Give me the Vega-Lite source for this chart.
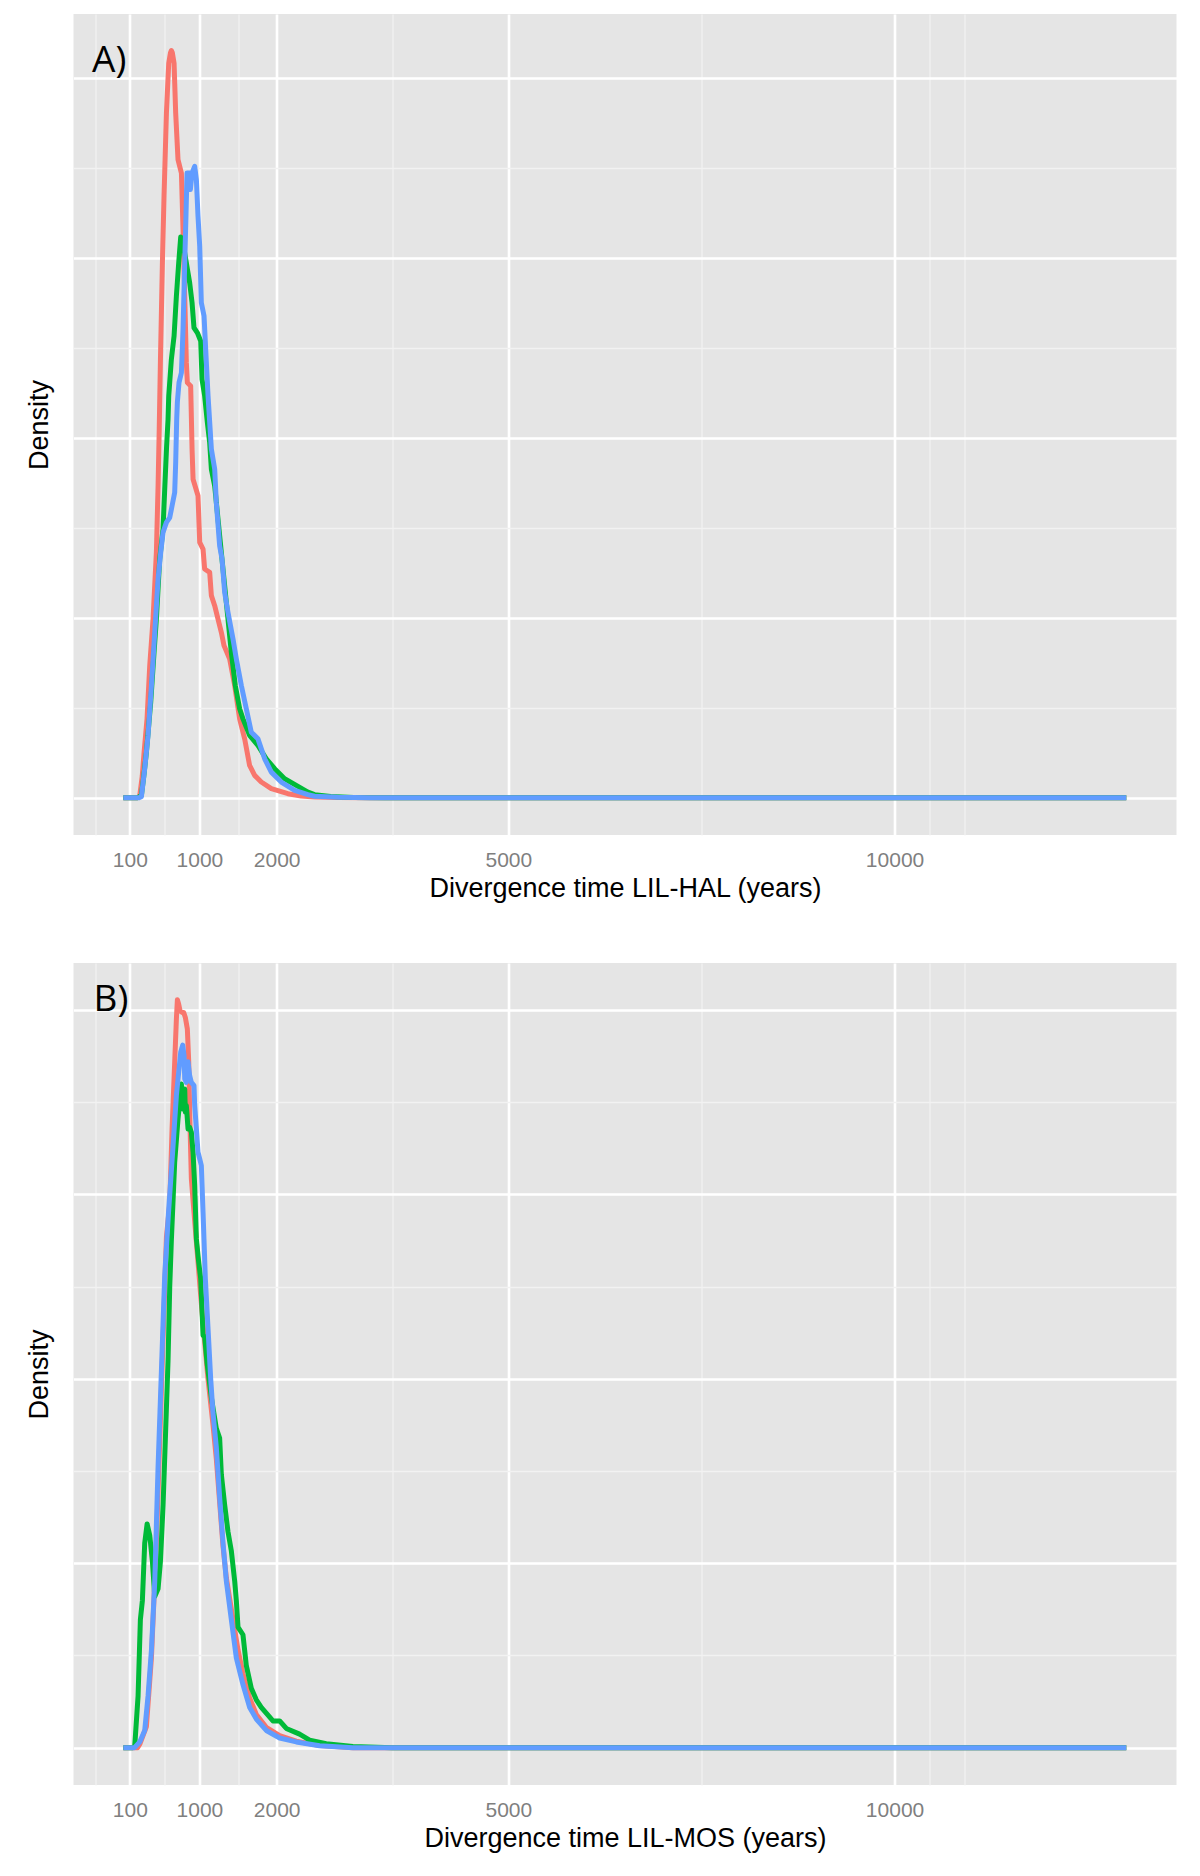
{
  "$schema": "https://vega.github.io/schema/vega-lite/v6.json",
  "background": "#FFFFFF",
  "padding": {"left": 25.5, "top": 14, "right": 23, "bottom": 5},
  "spacing": 62,
  "config": {
    "view": {"fill": "#E5E5E5", "stroke": null},
    "font": "Liberation Sans",
    "axis": {
      "domain": false, "ticks": false, "tickSize": 0,
      "labelFont": "Liberation Sans", "labelFontSize": 21, "labelColor": "#7F7F7F",
      "titleFont": "Liberation Sans", "titleFontSize": 27, "titleFontWeight": "normal", "titleColor": "#000000",
      "labelOverlap": false, "labelFlush": false
    }
  },
  "datasets": {
    "curves": [
      {"p":"A","s":"Run 1","x":15,"y":0},{"p":"A","s":"Run 1","x":200,"y":0},{"p":"A","s":"Run 1","x":228,"y":0.013},{"p":"A","s":"Run 1","x":260,"y":0.12},{"p":"A","s":"Run 1","x":284,"y":0.253},{"p":"A","s":"Run 1","x":322,"y":0.438},{"p":"A","s":"Run 1","x":357,"y":0.734},{"p":"A","s":"Run 1","x":400,"y":0.993},{"p":"A","s":"Run 1","x":443,"y":1.363},{"p":"A","s":"Run 1","x":465,"y":1.733},{"p":"A","s":"Run 1","x":480,"y":2.05},{"p":"A","s":"Run 1","x":495,"y":2.418},{"p":"A","s":"Run 1","x":521,"y":2.973},{"p":"A","s":"Run 1","x":542,"y":3.343},{"p":"A","s":"Run 1","x":573,"y":3.805},{"p":"A","s":"Run 1","x":603,"y":4.083},{"p":"A","s":"Run 1","x":625,"y":4.14},{"p":"A","s":"Run 1","x":637,"y":4.153},{"p":"A","s":"Run 1","x":650,"y":4.14},{"p":"A","s":"Run 1","x":672,"y":4.083},{"p":"A","s":"Run 1","x":693,"y":3.805},{"p":"A","s":"Run 1","x":723,"y":3.546},{"p":"A","s":"Run 1","x":767,"y":3.472},{"p":"A","s":"Run 1","x":788,"y":3.158},{"p":"A","s":"Run 1","x":810,"y":2.788},{"p":"A","s":"Run 1","x":831,"y":2.418},{"p":"A","s":"Run 1","x":844,"y":2.307},{"p":"A","s":"Run 1","x":887,"y":2.288},{"p":"A","s":"Run 1","x":905,"y":1.937},{"p":"A","s":"Run 1","x":918,"y":1.77},{"p":"A","s":"Run 1","x":982,"y":1.678},{"p":"A","s":"Run 1","x":1004,"y":1.419},{"p":"A","s":"Run 1","x":1047,"y":1.382},{"p":"A","s":"Run 1","x":1068,"y":1.271},{"p":"A","s":"Run 1","x":1133,"y":1.252},{"p":"A","s":"Run 1","x":1155,"y":1.123},{"p":"A","s":"Run 1","x":1198,"y":1.067},{"p":"A","s":"Run 1","x":1241,"y":0.993},{"p":"A","s":"Run 1","x":1284,"y":0.919},{"p":"A","s":"Run 1","x":1319,"y":0.845},{"p":"A","s":"Run 1","x":1392,"y":0.771},{"p":"A","s":"Run 1","x":1457,"y":0.623},{"p":"A","s":"Run 1","x":1521,"y":0.438},{"p":"A","s":"Run 1","x":1586,"y":0.327},{"p":"A","s":"Run 1","x":1650,"y":0.179},{"p":"A","s":"Run 1","x":1715,"y":0.124},{"p":"A","s":"Run 1","x":1801,"y":0.087},{"p":"A","s":"Run 1","x":1931,"y":0.05},{"p":"A","s":"Run 1","x":2146,"y":0.022},{"p":"A","s":"Run 1","x":2319,"y":0.009},{"p":"A","s":"Run 1","x":2491,"y":0.004},{"p":"A","s":"Run 1","x":2800,"y":0.001},{"p":"A","s":"Run 1","x":3200,"y":0},{"p":"A","s":"Run 1","x":13000,"y":0},
      {"p":"A","s":"Run 2","x":15,"y":0},{"p":"A","s":"Run 2","x":200,"y":0},{"p":"A","s":"Run 2","x":249,"y":0.013},{"p":"A","s":"Run 2","x":280,"y":0.12},{"p":"A","s":"Run 2","x":314,"y":0.253},{"p":"A","s":"Run 2","x":370,"y":0.531},{"p":"A","s":"Run 2","x":413,"y":0.808},{"p":"A","s":"Run 2","x":443,"y":0.993},{"p":"A","s":"Run 2","x":486,"y":1.326},{"p":"A","s":"Run 2","x":529,"y":1.493},{"p":"A","s":"Run 2","x":551,"y":1.715},{"p":"A","s":"Run 2","x":575,"y":1.95},{"p":"A","s":"Run 2","x":594,"y":2.103},{"p":"A","s":"Run 2","x":603,"y":2.233},{"p":"A","s":"Run 2","x":637,"y":2.436},{"p":"A","s":"Run 2","x":672,"y":2.566},{"p":"A","s":"Run 2","x":702,"y":2.788},{"p":"A","s":"Run 2","x":732,"y":2.973},{"p":"A","s":"Run 2","x":758,"y":3.117},{"p":"A","s":"Run 2","x":788,"y":3.084},{"p":"A","s":"Run 2","x":831,"y":2.973},{"p":"A","s":"Run 2","x":874,"y":2.862},{"p":"A","s":"Run 2","x":905,"y":2.751},{"p":"A","s":"Run 2","x":930,"y":2.612},{"p":"A","s":"Run 2","x":974,"y":2.584},{"p":"A","s":"Run 2","x":1017,"y":2.538},{"p":"A","s":"Run 2","x":1034,"y":2.325},{"p":"A","s":"Run 2","x":1068,"y":2.233},{"p":"A","s":"Run 2","x":1103,"y":2.085},{"p":"A","s":"Run 2","x":1133,"y":1.974},{"p":"A","s":"Run 2","x":1155,"y":1.826},{"p":"A","s":"Run 2","x":1198,"y":1.733},{"p":"A","s":"Run 2","x":1284,"y":1.363},{"p":"A","s":"Run 2","x":1370,"y":0.993},{"p":"A","s":"Run 2","x":1413,"y":0.808},{"p":"A","s":"Run 2","x":1465,"y":0.623},{"p":"A","s":"Run 2","x":1521,"y":0.494},{"p":"A","s":"Run 2","x":1564,"y":0.438},{"p":"A","s":"Run 2","x":1650,"y":0.346},{"p":"A","s":"Run 2","x":1758,"y":0.29},{"p":"A","s":"Run 2","x":1866,"y":0.216},{"p":"A","s":"Run 2","x":1974,"y":0.161},{"p":"A","s":"Run 2","x":2103,"y":0.105},{"p":"A","s":"Run 2","x":2254,"y":0.068},{"p":"A","s":"Run 2","x":2405,"y":0.031},{"p":"A","s":"Run 2","x":2491,"y":0.017},{"p":"A","s":"Run 2","x":2700,"y":0.006},{"p":"A","s":"Run 2","x":3000,"y":0.001},{"p":"A","s":"Run 2","x":3400,"y":0},{"p":"A","s":"Run 2","x":13000,"y":0},
      {"p":"A","s":"Run 3","x":15,"y":0},{"p":"A","s":"Run 3","x":220,"y":0},{"p":"A","s":"Run 3","x":249,"y":0.005},{"p":"A","s":"Run 3","x":292,"y":0.161},{"p":"A","s":"Run 3","x":335,"y":0.346},{"p":"A","s":"Run 3","x":379,"y":0.623},{"p":"A","s":"Run 3","x":422,"y":0.919},{"p":"A","s":"Run 3","x":465,"y":1.215},{"p":"A","s":"Run 3","x":499,"y":1.363},{"p":"A","s":"Run 3","x":529,"y":1.474},{"p":"A","s":"Run 3","x":573,"y":1.53},{"p":"A","s":"Run 3","x":616,"y":1.557},{"p":"A","s":"Run 3","x":646,"y":1.622},{"p":"A","s":"Run 3","x":680,"y":1.696},{"p":"A","s":"Run 3","x":693,"y":1.863},{"p":"A","s":"Run 3","x":706,"y":2.103},{"p":"A","s":"Run 3","x":715,"y":2.2},{"p":"A","s":"Run 3","x":736,"y":2.307},{"p":"A","s":"Run 3","x":767,"y":2.362},{"p":"A","s":"Run 3","x":788,"y":2.603},{"p":"A","s":"Run 3","x":810,"y":2.973},{"p":"A","s":"Run 3","x":827,"y":3.25},{"p":"A","s":"Run 3","x":840,"y":3.472},{"p":"A","s":"Run 3","x":874,"y":3.472},{"p":"A","s":"Run 3","x":883,"y":3.38},{"p":"A","s":"Run 3","x":905,"y":3.472},{"p":"A","s":"Run 3","x":939,"y":3.509},{"p":"A","s":"Run 3","x":961,"y":3.435},{"p":"A","s":"Run 3","x":982,"y":3.232},{"p":"A","s":"Run 3","x":1004,"y":3.065},{"p":"A","s":"Run 3","x":1025,"y":2.751},{"p":"A","s":"Run 3","x":1060,"y":2.677},{"p":"A","s":"Run 3","x":1090,"y":2.418},{"p":"A","s":"Run 3","x":1112,"y":2.233},{"p":"A","s":"Run 3","x":1155,"y":1.937},{"p":"A","s":"Run 3","x":1198,"y":1.826},{"p":"A","s":"Run 3","x":1219,"y":1.641},{"p":"A","s":"Run 3","x":1262,"y":1.4},{"p":"A","s":"Run 3","x":1293,"y":1.326},{"p":"A","s":"Run 3","x":1327,"y":1.141},{"p":"A","s":"Run 3","x":1370,"y":1.03},{"p":"A","s":"Run 3","x":1435,"y":0.882},{"p":"A","s":"Run 3","x":1478,"y":0.771},{"p":"A","s":"Run 3","x":1543,"y":0.623},{"p":"A","s":"Run 3","x":1607,"y":0.494},{"p":"A","s":"Run 3","x":1672,"y":0.364},{"p":"A","s":"Run 3","x":1758,"y":0.327},{"p":"A","s":"Run 3","x":1845,"y":0.216},{"p":"A","s":"Run 3","x":1931,"y":0.142},{"p":"A","s":"Run 3","x":2060,"y":0.087},{"p":"A","s":"Run 3","x":2233,"y":0.041},{"p":"A","s":"Run 3","x":2405,"y":0.017},{"p":"A","s":"Run 3","x":2491,"y":0.008},{"p":"A","s":"Run 3","x":2800,"y":0.002},{"p":"A","s":"Run 3","x":3200,"y":0},{"p":"A","s":"Run 3","x":13000,"y":0},
      {"p":"B","s":"Run 1","x":15,"y":0},{"p":"B","s":"Run 1","x":200,"y":0},{"p":"B","s":"Run 1","x":230,"y":0.02},{"p":"B","s":"Run 1","x":314,"y":0.114},{"p":"B","s":"Run 1","x":379,"y":0.487},{"p":"B","s":"Run 1","x":443,"y":1.109},{"p":"B","s":"Run 1","x":508,"y":1.939},{"p":"B","s":"Run 1","x":573,"y":2.768},{"p":"B","s":"Run 1","x":616,"y":2.95},{"p":"B","s":"Run 1","x":646,"y":3.354},{"p":"B","s":"Run 1","x":680,"y":3.715},{"p":"B","s":"Run 1","x":702,"y":3.95},{"p":"B","s":"Run 1","x":715,"y":4.055},{"p":"B","s":"Run 1","x":732,"y":4.031},{"p":"B","s":"Run 1","x":749,"y":3.995},{"p":"B","s":"Run 1","x":775,"y":3.986},{"p":"B","s":"Run 1","x":797,"y":3.986},{"p":"B","s":"Run 1","x":818,"y":3.959},{"p":"B","s":"Run 1","x":844,"y":3.896},{"p":"B","s":"Run 1","x":862,"y":3.715},{"p":"B","s":"Run 1","x":874,"y":3.445},{"p":"B","s":"Run 1","x":896,"y":3.083},{"p":"B","s":"Run 1","x":940,"y":2.85},{"p":"B","s":"Run 1","x":982,"y":2.632},{"p":"B","s":"Run 1","x":1034,"y":2.361},{"p":"B","s":"Run 1","x":1111,"y":2.0},{"p":"B","s":"Run 1","x":1176,"y":1.75},{"p":"B","s":"Run 1","x":1219,"y":1.565},{"p":"B","s":"Run 1","x":1306,"y":1.09},{"p":"B","s":"Run 1","x":1349,"y":0.92},{"p":"B","s":"Run 1","x":1435,"y":0.695},{"p":"B","s":"Run 1","x":1500,"y":0.53},{"p":"B","s":"Run 1","x":1564,"y":0.4},{"p":"B","s":"Run 1","x":1650,"y":0.27},{"p":"B","s":"Run 1","x":1737,"y":0.18},{"p":"B","s":"Run 1","x":1866,"y":0.11},{"p":"B","s":"Run 1","x":2039,"y":0.065},{"p":"B","s":"Run 1","x":2254,"y":0.035},{"p":"B","s":"Run 1","x":2556,"y":0.012},{"p":"B","s":"Run 1","x":2987,"y":0},{"p":"B","s":"Run 1","x":13000,"y":0},
      {"p":"B","s":"Run 2","x":15,"y":0},{"p":"B","s":"Run 2","x":140,"y":0},{"p":"B","s":"Run 2","x":163,"y":0.01},{"p":"B","s":"Run 2","x":206,"y":0.28},{"p":"B","s":"Run 2","x":236,"y":0.695},{"p":"B","s":"Run 2","x":262,"y":0.798},{"p":"B","s":"Run 2","x":292,"y":1.109},{"p":"B","s":"Run 2","x":323,"y":1.213},{"p":"B","s":"Run 2","x":357,"y":1.151},{"p":"B","s":"Run 2","x":392,"y":1.006},{"p":"B","s":"Run 2","x":422,"y":0.819},{"p":"B","s":"Run 2","x":465,"y":0.861},{"p":"B","s":"Run 2","x":495,"y":1.006},{"p":"B","s":"Run 2","x":530,"y":1.317},{"p":"B","s":"Run 2","x":564,"y":1.731},{"p":"B","s":"Run 2","x":594,"y":2.1},{"p":"B","s":"Run 2","x":616,"y":2.5},{"p":"B","s":"Run 2","x":637,"y":2.75},{"p":"B","s":"Run 2","x":680,"y":3.174},{"p":"B","s":"Run 2","x":723,"y":3.408},{"p":"B","s":"Run 2","x":767,"y":3.598},{"p":"B","s":"Run 2","x":780,"y":3.463},{"p":"B","s":"Run 2","x":797,"y":3.499},{"p":"B","s":"Run 2","x":810,"y":3.571},{"p":"B","s":"Run 2","x":818,"y":3.445},{"p":"B","s":"Run 2","x":831,"y":3.481},{"p":"B","s":"Run 2","x":853,"y":3.354},{"p":"B","s":"Run 2","x":874,"y":3.363},{"p":"B","s":"Run 2","x":896,"y":3.336},{"p":"B","s":"Run 2","x":918,"y":3.228},{"p":"B","s":"Run 2","x":939,"y":3.047},{"p":"B","s":"Run 2","x":961,"y":2.758},{"p":"B","s":"Run 2","x":991,"y":2.632},{"p":"B","s":"Run 2","x":1017,"y":2.542},{"p":"B","s":"Run 2","x":1047,"y":2.235},{"p":"B","s":"Run 2","x":1068,"y":2.229},{"p":"B","s":"Run 2","x":1099,"y":2.084},{"p":"B","s":"Run 2","x":1155,"y":1.897},{"p":"B","s":"Run 2","x":1219,"y":1.731},{"p":"B","s":"Run 2","x":1262,"y":1.679},{"p":"B","s":"Run 2","x":1284,"y":1.482},{"p":"B","s":"Run 2","x":1327,"y":1.317},{"p":"B","s":"Run 2","x":1370,"y":1.171},{"p":"B","s":"Run 2","x":1413,"y":1.068},{"p":"B","s":"Run 2","x":1457,"y":0.902},{"p":"B","s":"Run 2","x":1478,"y":0.798},{"p":"B","s":"Run 2","x":1500,"y":0.653},{"p":"B","s":"Run 2","x":1564,"y":0.612},{"p":"B","s":"Run 2","x":1607,"y":0.446},{"p":"B","s":"Run 2","x":1672,"y":0.322},{"p":"B","s":"Run 2","x":1737,"y":0.259},{"p":"B","s":"Run 2","x":1801,"y":0.218},{"p":"B","s":"Run 2","x":1888,"y":0.176},{"p":"B","s":"Run 2","x":1952,"y":0.145},{"p":"B","s":"Run 2","x":2039,"y":0.145},{"p":"B","s":"Run 2","x":2125,"y":0.104},{"p":"B","s":"Run 2","x":2297,"y":0.073},{"p":"B","s":"Run 2","x":2427,"y":0.041},{"p":"B","s":"Run 2","x":2642,"y":0.021},{"p":"B","s":"Run 2","x":2987,"y":0.006},{"p":"B","s":"Run 2","x":3500,"y":0},{"p":"B","s":"Run 2","x":13000,"y":0},
      {"p":"B","s":"Run 3","x":15,"y":0},{"p":"B","s":"Run 3","x":160,"y":0},{"p":"B","s":"Run 3","x":228,"y":0.031},{"p":"B","s":"Run 3","x":292,"y":0.093},{"p":"B","s":"Run 3","x":335,"y":0.28},{"p":"B","s":"Run 3","x":379,"y":0.529},{"p":"B","s":"Run 3","x":422,"y":0.902},{"p":"B","s":"Run 3","x":465,"y":1.524},{"p":"B","s":"Run 3","x":508,"y":2.042},{"p":"B","s":"Run 3","x":551,"y":2.56},{"p":"B","s":"Run 3","x":600,"y":2.9},{"p":"B","s":"Run 3","x":659,"y":3.264},{"p":"B","s":"Run 3","x":702,"y":3.535},{"p":"B","s":"Run 3","x":732,"y":3.661},{"p":"B","s":"Run 3","x":758,"y":3.77},{"p":"B","s":"Run 3","x":784,"y":3.809},{"p":"B","s":"Run 3","x":801,"y":3.752},{"p":"B","s":"Run 3","x":810,"y":3.625},{"p":"B","s":"Run 3","x":831,"y":3.607},{"p":"B","s":"Run 3","x":853,"y":3.719},{"p":"B","s":"Run 3","x":874,"y":3.643},{"p":"B","s":"Run 3","x":896,"y":3.607},{"p":"B","s":"Run 3","x":930,"y":3.589},{"p":"B","s":"Run 3","x":939,"y":3.481},{"p":"B","s":"Run 3","x":961,"y":3.354},{"p":"B","s":"Run 3","x":982,"y":3.228},{"p":"B","s":"Run 3","x":1004,"y":3.192},{"p":"B","s":"Run 3","x":1025,"y":3.156},{"p":"B","s":"Run 3","x":1047,"y":2.903},{"p":"B","s":"Run 3","x":1077,"y":2.542},{"p":"B","s":"Run 3","x":1112,"y":2.271},{"p":"B","s":"Run 3","x":1146,"y":2.0},{"p":"B","s":"Run 3","x":1176,"y":1.814},{"p":"B","s":"Run 3","x":1219,"y":1.628},{"p":"B","s":"Run 3","x":1262,"y":1.358},{"p":"B","s":"Run 3","x":1306,"y":1.109},{"p":"B","s":"Run 3","x":1349,"y":0.902},{"p":"B","s":"Run 3","x":1413,"y":0.695},{"p":"B","s":"Run 3","x":1478,"y":0.487},{"p":"B","s":"Run 3","x":1564,"y":0.342},{"p":"B","s":"Run 3","x":1651,"y":0.218},{"p":"B","s":"Run 3","x":1737,"y":0.155},{"p":"B","s":"Run 3","x":1866,"y":0.093},{"p":"B","s":"Run 3","x":2039,"y":0.052},{"p":"B","s":"Run 3","x":2254,"y":0.031},{"p":"B","s":"Run 3","x":2556,"y":0.01},{"p":"B","s":"Run 3","x":2987,"y":0},{"p":"B","s":"Run 3","x":13000,"y":0}
    ],
    "labels": [
      {"p":"A","label":"A)","x":-389,"y":4.031},
      {"p":"B","label":"B)","x":-370,"y":3.995}
    ]
  },
  "vconcat": [
    {
      "width": 1103, "height": 821,
      "encoding": {
        "x": {"field": "x", "type": "quantitative",
          "scale": {"domain": [-630, 13650], "nice": false, "zero": false},
          "axis": {"title": "Divergence time LIL-HAL (years)",
            "values": [-350, 100, 550, 1000, 1500, 2000, 3500, 5000, 7500, 10000, 10450, 10900],
            "format": "d",
            "labelExpr": "indexof([100,1000,2000,5000,10000], datum.value) >= 0 ? datum.label : ''",
            "grid": true,
            "gridColor": {"condition": {"test": "indexof([100,1000,2000,5000,10000], datum.value) >= 0", "value": "#FFFFFF"}, "value": "#F2F2F2"},
            "gridWidth": {"condition": {"test": "indexof([100,1000,2000,5000,10000], datum.value) >= 0", "value": 2.6}, "value": 1.3},
            "labelPadding": 14, "titlePadding": 5}},
        "y": {"field": "y", "type": "quantitative",
          "scale": {"domain": [-0.2075, 4.356], "nice": false, "zero": false},
          "axis": {"title": "Density", "values": [0, 0.5, 1, 1.5, 2, 2.5, 3, 3.5, 4], "labels": false, "grid": true,
            "gridColor": {"condition": {"test": "datum.value % 1 === 0", "value": "#FFFFFF"}, "value": "#F2F2F2"},
            "gridWidth": {"condition": {"test": "datum.value % 1 === 0", "value": 2.6}, "value": 1.3},
            "titlePadding": 20}}
      },
      "layer": [
        {
          "data": {"name": "curves"},
          "transform": [{"filter": "datum.p === 'A'"}],
          "mark": {"type": "line", "strokeWidth": 5, "strokeJoin": "round", "strokeCap": "butt"},
          "encoding": {
            "color": {"field": "s", "type": "nominal",
              "scale": {"domain": ["Run 1", "Run 2", "Run 3"], "range": ["#F8766D", "#00BA38", "#619CFF"]},
              "legend": null}
          }
        },
        {
          "data": {"name": "labels"},
          "transform": [{"filter": "datum.p === 'A'"}],
          "mark": {"type": "text", "font": "Open Sans", "fontSize": 37, "align": "left", "baseline": "alphabetic", "color": "#000000"},
          "encoding": {"text": {"field": "label"}}
        }
      ]
    },
    {
      "width": 1103, "height": 822,
      "encoding": {
        "x": {"field": "x", "type": "quantitative",
          "scale": {"domain": [-630, 13650], "nice": false, "zero": false},
          "axis": {"title": "Divergence time LIL-MOS (years)",
            "values": [-350, 100, 550, 1000, 1500, 2000, 3500, 5000, 7500, 10000, 10450, 10900],
            "format": "d",
            "labelExpr": "indexof([100,1000,2000,5000,10000], datum.value) >= 0 ? datum.label : ''",
            "grid": true,
            "gridColor": {"condition": {"test": "indexof([100,1000,2000,5000,10000], datum.value) >= 0", "value": "#FFFFFF"}, "value": "#F2F2F2"},
            "gridWidth": {"condition": {"test": "indexof([100,1000,2000,5000,10000], datum.value) >= 0", "value": 2.6}, "value": 1.3},
            "labelPadding": 14, "titlePadding": 5}},
        "y": {"field": "y", "type": "quantitative",
          "scale": {"domain": [-0.2026, 4.254], "nice": false, "zero": false},
          "axis": {"title": "Density", "values": [0, 0.5, 1, 1.5, 2, 2.5, 3, 3.5, 4], "labels": false, "grid": true,
            "gridColor": {"condition": {"test": "datum.value % 1 === 0", "value": "#FFFFFF"}, "value": "#F2F2F2"},
            "gridWidth": {"condition": {"test": "datum.value % 1 === 0", "value": 2.6}, "value": 1.3},
            "titlePadding": 20}}
      },
      "layer": [
        {
          "data": {"name": "curves"},
          "transform": [{"filter": "datum.p === 'B'"}],
          "mark": {"type": "line", "strokeWidth": 5, "strokeJoin": "round", "strokeCap": "butt"},
          "encoding": {
            "color": {"field": "s", "type": "nominal",
              "scale": {"domain": ["Run 1", "Run 2", "Run 3"], "range": ["#F8766D", "#00BA38", "#619CFF"]},
              "legend": null}
          }
        },
        {
          "data": {"name": "labels"},
          "transform": [{"filter": "datum.p === 'B'"}],
          "mark": {"type": "text", "font": "Open Sans", "fontSize": 37, "align": "left", "baseline": "alphabetic", "color": "#000000"},
          "encoding": {"text": {"field": "label"}}
        }
      ]
    }
  ]
}
